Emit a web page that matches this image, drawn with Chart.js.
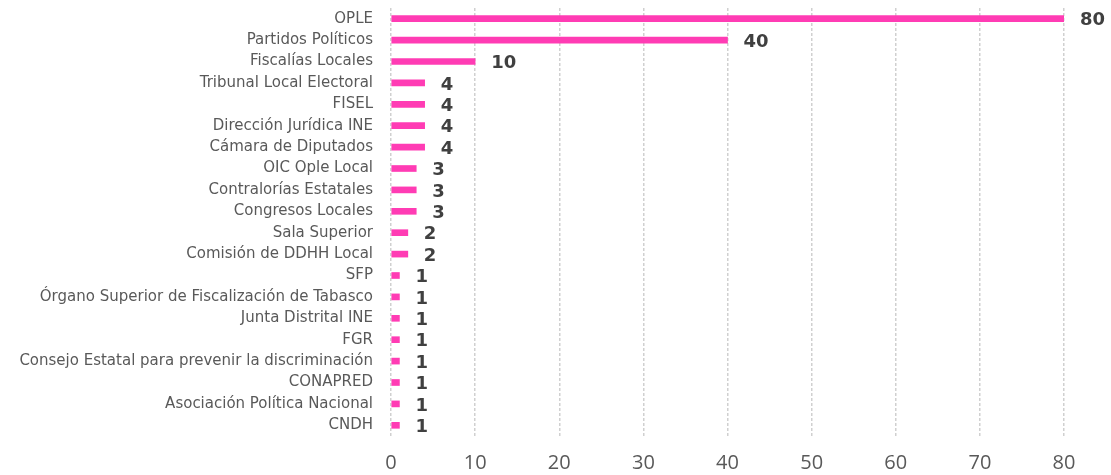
<!DOCTYPE html>
<html>
<head>
<meta charset="utf-8">
<script src="https://cdn.jsdelivr.net/npm/chart.js@4/dist/chart.umd.min.js"></script>
<style>
  html, body { margin: 0; padding: 0; background: #fff; }
  #wrap { width: 1111px; height: 475px; }
</style>
</head>
<body>
<div id="wrap"><canvas id="myChart" width="1111" height="475"></canvas></div>
<script>
// categorías y valores
const categorias = [
  'OPLE', 'Partidos Políticos', 'Fiscalías Locales', 'Tribunal Local Electoral', 'FISEL',
  'Dirección Jurídica INE', 'Cámara de Diputados', 'OIC Ople Local', 'Contralorías Estatales',
  'Congresos Locales', 'Sala Superior', 'Comisión de DDHH Local', 'SFP',
  'Órgano Superior de Fiscalización de Tabasco', 'Junta Distrital INE', 'FGR',
  'Consejo Estatal para prevenir la discriminación', 'CONAPRED', 'Asociación Política Nacional', 'CNDH'
];
const valores = [80, 40, 10, 4, 4, 4, 4, 3, 3, 3, 2, 2, 1, 1, 1, 1, 1, 1, 1, 1];
const ticksX = [0, 10, 20, 30, 40, 50, 60, 70, 80];

// etiquetas de valor al lado de cada barra
const etiquetas = {
  id: 'etiquetas',
  afterDatasetsDraw(chart) {
    const ctx = chart.ctx;
    const meta = chart.getDatasetMeta(0);
    ctx.save();
    ctx.font = 'bold 18px "DejaVu Sans"';
    ctx.fillStyle = '#404040';
    ctx.textAlign = 'left';
    ctx.textBaseline = 'middle';
    meta.data.forEach(function(bar, i) {
      ctx.fillText(valores[i], bar.x + 16, bar.y + 2);
    });
    ctx.restore();
  }
};

let ctx = document.getElementById('myChart').getContext('2d');
let myChart = new Chart(ctx, {
  type: 'bar',
  data: {
    labels: categorias,
    datasets: [{
      data: valores,
      backgroundColor: '#ff3cb4',
      barThickness: 6
    }]
  },
  options: {
    indexAxis: 'y',
    responsive: false,
    animation: false,
    layout: { padding: { top: 8, right: 47, bottom: 0, left: 0 } },
    plugins: { legend: { display: false }, tooltip: { enabled: false } },
    scales: {
      x: {
        min: 0, max: 80,
        afterBuildTicks: function(scale) { scale.ticks = ticksX.map(v => ({ value: v })); },
        afterFit: function(scale) { scale.height = 39; },
        grid: { color: '#d0d0d0', lineWidth: 1.5, drawTicks: false },
        border: { display: false, dash: [3, 2] },
        ticks: { color: '#595959', font: { family: 'Open Sans', size: 20 }, padding: 15 }
      },
      y: {
        afterFit: function(scale) {
          scale.width = 391;
          scale.paddingTop = 0;
          scale.paddingBottom = 0;
        },
        grid: { display: false },
        border: { display: false },
        ticks: { color: '#595959', font: { family: 'DejaVu Sans', size: 15 }, padding: 10, autoSkip: false }
      }
    }
  },
  plugins: [etiquetas]
});
</script>
</body>
</html>
